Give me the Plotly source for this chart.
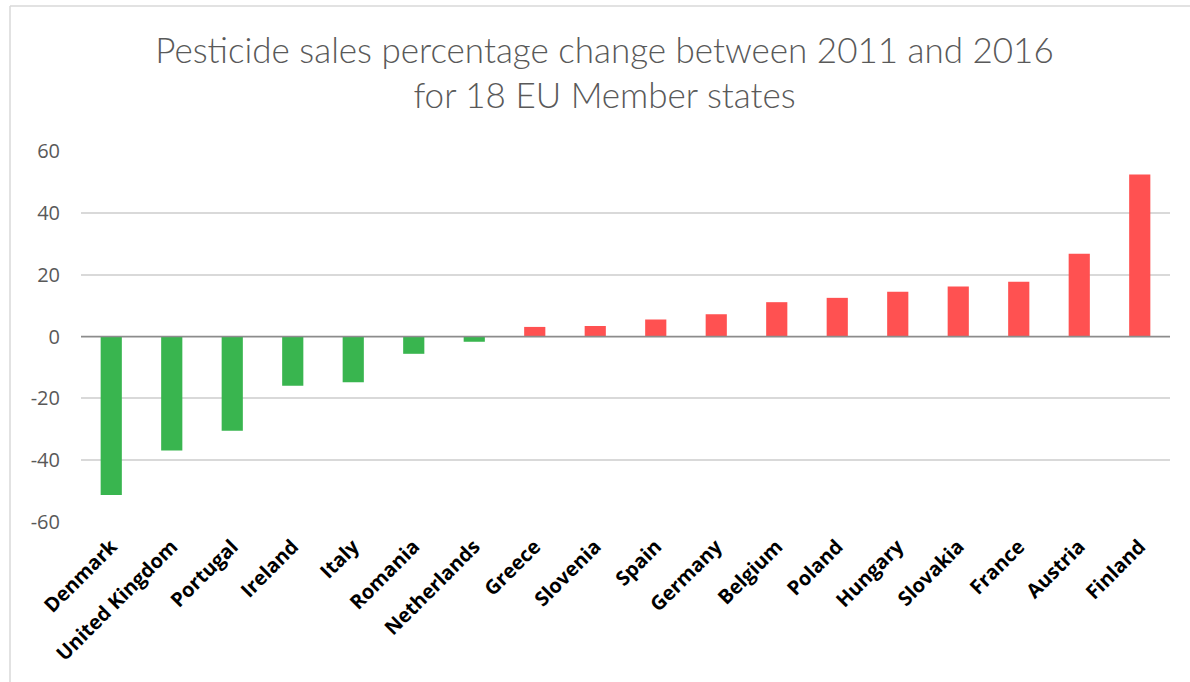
import plotly.graph_objects as go

countries = ["Denmark", "United Kingdom", "Portugal", "Ireland", "Italy", "Romania",
             "Netherlands", "Greece", "Slovenia", "Spain", "Germany", "Belgium",
             "Poland", "Hungary", "Slovakia", "France", "Austria", "Finland"]
pct_change = [-51.3, -36.9, -30.5, -15.9, -14.8, -5.6, -1.7, 3.1, 3.4, 5.5,
              7.2, 11.1, 12.5, 14.5, 16.2, 17.7, 26.8, 52.4]
y_ticks = [-60, -40, -20, 0, 20, 40, 60]
y_tick_text = ["-60", "-40", "-20", "0", "20", "40", "60"]

GREEN = "#39B54F"
RED = "#FF5151"
bar_colors = [GREEN if v < 0 else RED for v in pct_change]

fig = go.Figure()
fig.add_trace(go.Bar(x=countries, y=pct_change, marker_color=bar_colors,
                     marker_line_width=0, width=0.35))

fig.update_layout(
    width=1190, height=682,
    margin=dict(l=81, r=20, t=151, b=160),
    paper_bgcolor="white", plot_bgcolor="white",
    showlegend=False,
    title=dict(text="Pesticide sales percentage change between 2011 and 2016<br>for 18 EU Member states",
               x=0.508, xanchor="center", y=0.908, yanchor="middle",
               font=dict(family="Lato", size=35, color="#595959", weight=300)),
    xaxis=dict(tickangle=-45, tickfont=dict(family="Open Sans", size=20, color="black", weight="bold"),
               showgrid=False, showline=False, ticks="", ticklabelstandoff=8),
    yaxis=dict(range=[-60, 60], tickvals=y_ticks, ticktext=y_tick_text,
               gridcolor="#D9D9D9", gridwidth=1.5, zeroline=False,
               tickfont=dict(family="Open Sans", size=20, color="#595959"),
               ticklabelstandoff=20, showline=False),
    shapes=[
        # zero line drawn over the bars, as in the original
        dict(type="line", xref="paper", yref="y", x0=0, x1=1, y0=0, y1=0, layer="above",
             line=dict(color="#8C8C8C", width=1.5)),
        # chart-area frame
        dict(type="line", xref="paper", yref="paper", x0=-0.0652, x1=-0.0652, y0=-0.5, y1=1.391,
             line=dict(color="#D9D9D9", width=1.5)),
        dict(type="line", xref="paper", yref="paper", x0=-0.0652, x1=1.1, y0=1.391, y1=1.391,
             line=dict(color="#D9D9D9", width=1.5)),
    ],
)

fig.write_html("out.html", config={"displayModeBar": False},
               post_script="document.body.style.margin='0';")
